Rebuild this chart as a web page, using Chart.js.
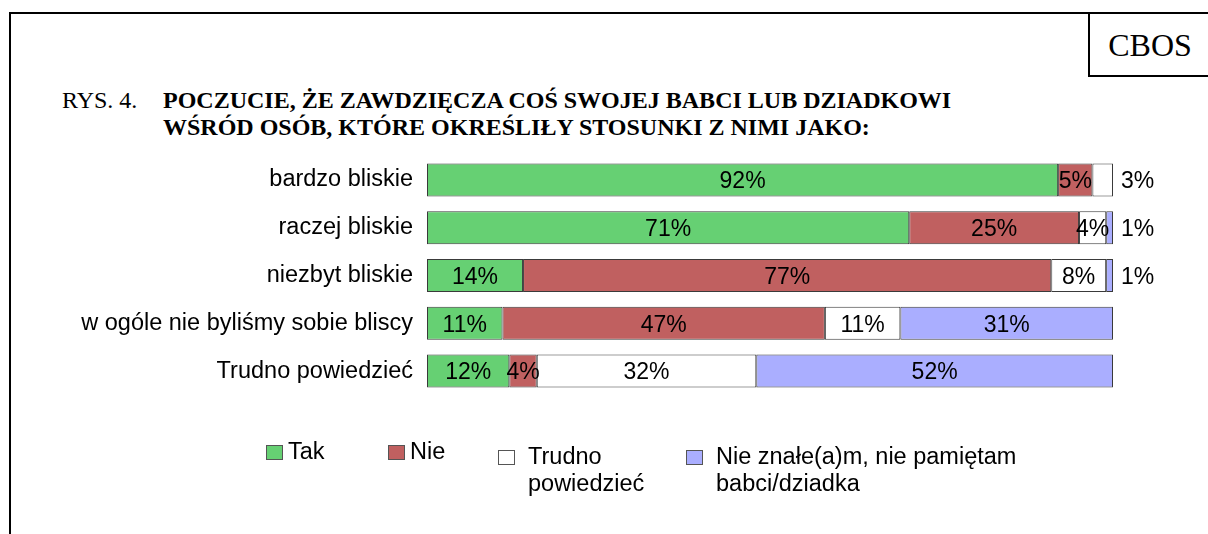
<!DOCTYPE html>
<html>
<head>
<meta charset="utf-8">
<script src="https://cdn.jsdelivr.net/npm/chart.js@4.4.1/dist/chart.umd.min.js"></script>
<style>
  body { margin: 0; background: #fff; width: 1208px; height: 534px; overflow: hidden; position: relative; }
  #chart { position: absolute; left: 0; top: 0; }
  .rule-top { position: absolute; left: 9px; top: 12px; width: 1199px; height: 2px; background: #000; }
  .rule-left { position: absolute; left: 9px; top: 12px; width: 2px; height: 522px; background: #000; }
  .cbos { position: absolute; left: 1088px; top: 12px; width: 120px; height: 63px; border-left: 2px solid #000; border-bottom: 2px solid #000;
          font-family: "Liberation Serif", "Times New Roman", serif; font-size: 32px; line-height: 66px; text-align: center; color: #000; }
  .title { position: absolute; top: 87px; font-family: "Liberation Serif", "Times New Roman", serif; font-size: 24px; line-height: 27px; color: #000; white-space: nowrap; }
  .rys { left: 62px; }
  .head { left: 163px; font-weight: bold; }
  .legend-item { position: absolute; font-family: "Liberation Sans", Arial, sans-serif; font-size: 23.5px; line-height: 27px; color: #000; }
  .legend-item .box { position: absolute; left: 0; width: 15px; height: 13px; border: 1px solid #555; }
  .legend-item .txt { position: absolute; white-space: nowrap; }
</style>
</head>
<body>
<div class="rule-top"></div>
<div class="rule-left"></div>
<div class="cbos">CBOS</div>
<div class="title rys">RYS. 4.</div>
<div class="title head">POCZUCIE, ŻE ZAWDZIĘCZA COŚ SWOJEJ BABCI LUB DZIADKOWI<br>WŚRÓD OSÓB, KTÓRE OKREŚLIŁY STOSUNKI Z NIMI JAKO:</div>
<canvas id="chart" width="1208" height="534"></canvas>
<div id="legend"></div>
<script>
// categories (rows, top to bottom)
const categories = ['bardzo bliskie', 'raczej bliskie', 'niezbyt bliskie', 'w ogóle nie byliśmy sobie bliscy', 'Trudno powiedzieć'];

// answers, in %
const tak = [92, 71, 14, 11, 12];
const nie = [5, 25, 77, 47, 4];
const trudno = [3, 4, 8, 11, 32];
const nieZnal = [0, 1, 1, 31, 52];

const seriesNames = ['Tak', 'Nie', 'Trudno powiedzieć', 'Nie znałe(a)m, nie pamiętam babci/dziadka'];
const legendLines = [['Tak'], ['Nie'], ['Trudno', 'powiedzieć'], ['Nie znałe(a)m, nie pamiętam', 'babci/dziadka']];
const colors = ['#66d073', '#c06060', '#ffffff', '#aaaeff'];

const font = '"Liberation Sans", Arial, sans-serif';

const series = [tak, nie, trudno, nieZnal];
// 100% stacked: each row scaled to its own sum (rounded values may add to 101)
const rowSums = categories.map((_, i) => series.reduce((s, arr) => s + arr[i], 0));

// percent labels, small end pieces go outside the bar
const valueLabels = {
  id: 'valueLabels',
  afterDatasetsDraw(chart) {
    const ctx = chart.ctx;
    ctx.save();
    ctx.font = '23px ' + font;
    ctx.fillStyle = '#000';
    ctx.textBaseline = 'middle';
    chart.data.datasets.forEach((ds, di) => {
      const meta = chart.getDatasetMeta(di);
      meta.data.forEach((bar, i) => {
        const v = ds.shown[i];
        if (!v) return;
        let x;
        if (v <= 3) {
          ctx.textAlign = 'left';
          x = chart.chartArea.right + 8;
        } else {
          ctx.textAlign = 'center';
          x = (bar.x + bar.base) / 2;
        }
        ctx.fillText(v + '%', x, bar.y + 2);
      });
    });
    ctx.restore();
  }
};

new Chart(document.getElementById('chart'), {
  type: 'bar',
  data: {
    labels: categories,
    datasets: series.map((d, i) => ({
      label: seriesNames[i],
      data: d.map((v, j) => v / rowSums[j] * 100),
      shown: d,
      backgroundColor: colors[i],
      borderColor: '#3a3a3a',
      borderWidth: 1,
      borderSkipped: false,
      barPercentage: 0.69,
      categoryPercentage: 1
    }))
  },
  options: {
    indexAxis: 'y',
    responsive: false,
    animation: false,
    layout: { padding: { left: 0, right: 95, top: 156, bottom: 139 } },
    scales: {
      x: { stacked: true, min: 0, max: 100, display: false },
      y: {
        stacked: true,
        grid: { display: false, drawTicks: false },
        border: { display: false },
        ticks: { color: '#000', font: { family: font, size: 23.5 }, padding: 14 },
        afterFit: (scale) => { scale.width = 427; }
      }
    },
    plugins: { legend: { display: false }, tooltip: { enabled: false } }
  },
  plugins: [valueLabels]
});

// legend below the chart
const legendPos = [[266, 438], [388, 438], [498, 443], [686, 443]];
const legendEl = document.getElementById('legend');
legendLines.forEach((lines, i) => {
  const item = document.createElement('div');
  item.className = 'legend-item';
  item.style.left = legendPos[i][0] + 'px';
  item.style.top = legendPos[i][1] + 'px';
  const box = document.createElement('div');
  box.className = 'box';
  box.style.background = colors[i];
  box.style.top = '7px';
  const txt = document.createElement('div');
  txt.className = 'txt';
  txt.style.left = (i < 2 ? 22 : 30) + 'px';
  txt.innerHTML = lines.join('<br>');
  item.appendChild(box);
  item.appendChild(txt);
  legendEl.appendChild(item);
});
</script>
</body>
</html>
